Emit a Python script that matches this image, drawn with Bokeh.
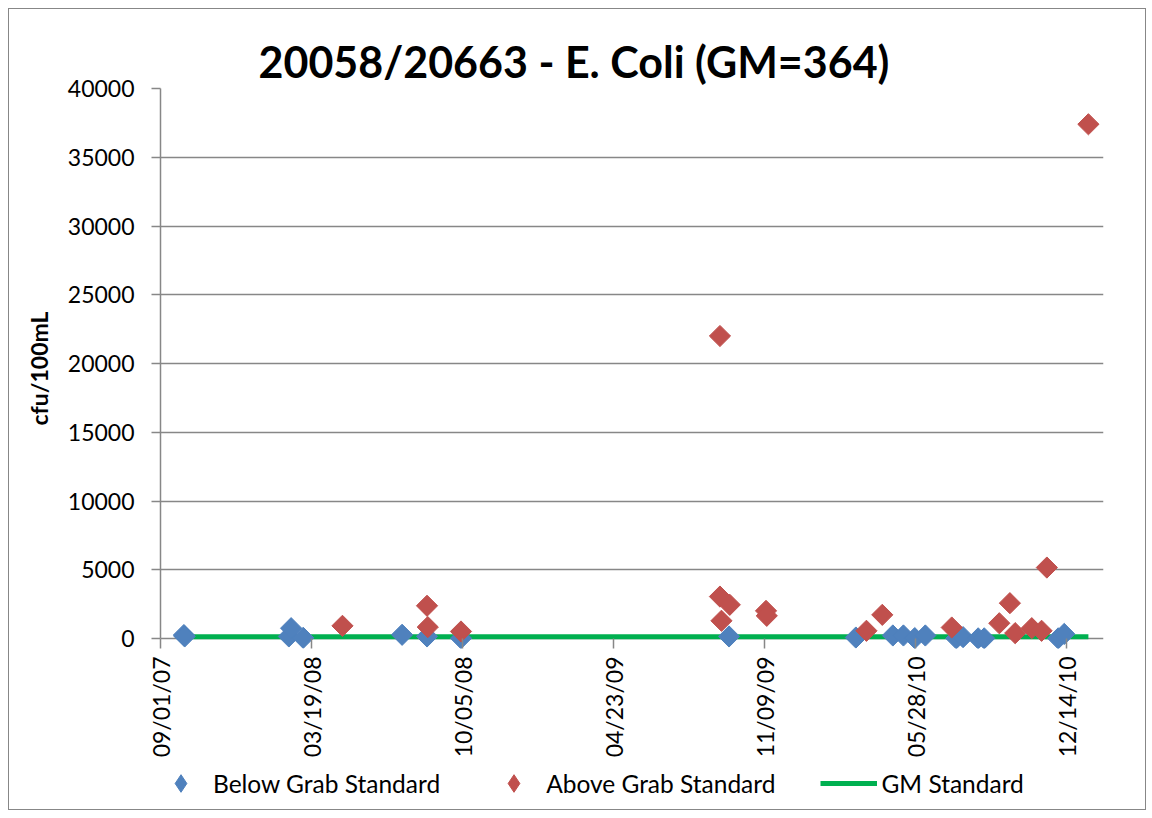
import math
import pandas as pd
from bokeh.plotting import figure
from bokeh.layouts import column
from bokeh.models import (FixedTicker, DatetimeTickFormatter, Range1d, Legend,
                          LegendItem)
from bokeh.embed import file_html
from bokeh.resources import INLINE

# ---------------- data ----------------
title_text = "20058/20663 - E. Coli (GM=364)"
y_label = "cfu/100mL"
x_tick_dates = ["2007-09-01", "2008-03-19", "2008-10-05", "2009-04-23",
                "2009-11-09", "2010-05-28", "2010-12-14"]
x_start = "2007-09-01"
x_end = "2011-02-01"
y_ticks = [0, 5000, 10000, 15000, 20000, 25000, 30000, 35000, 40000]
y_max = 40000
gm_standard = 126

below_dates = ["2007-10-02", "2007-10-03", "2008-02-18", "2008-02-21", "2008-03-08",
               "2008-07-17", "2008-08-19", "2008-10-03", "2009-09-23",
               "2010-03-10", "2010-04-28", "2010-05-12", "2010-05-27", "2010-06-10",
               "2010-07-21", "2010-07-30", "2010-08-19", "2010-08-27",
               "2010-12-03", "2010-12-11"]
below_values = [250, 150, 150, 750, 50,
                270, 150, 20, 150,
                70, 220, 220, 30, 220,
                10, 100, 10, 10,
                10, 330]

above_dates = ["2008-04-29", "2008-08-19", "2008-08-20", "2008-10-03",
               "2009-09-11", "2009-09-11", "2009-09-24", "2009-09-13",
               "2009-11-11", "2009-11-12",
               "2010-03-24", "2010-04-14", "2010-07-15",
               "2010-09-16", "2010-09-30", "2010-10-07", "2010-10-29",
               "2010-11-11", "2010-11-18", "2011-01-12"]
above_values = [920, 2380, 830, 510,
                22000, 3050, 2450, 1290,
                2010, 1650,
                560, 1720, 800,
                1110, 2570, 390, 750,
                560, 5160, 37400]

legend_labels = ["Below Grab Standard", "Above Grab Standard", "GM Standard"]

# ---------------- build ----------------
FONT = "Lato"
GRID = "#878787"
BLUE = "#4F81BD"
RED = "#C0504D"
GREEN = "#00B050"
NAN = float("nan")

bd = pd.to_datetime(below_dates)
ad = pd.to_datetime(above_dates)
all_dates = bd.append(ad)
gm_x = [all_dates.min(), all_dates.max()]
gm_y = [gm_standard, gm_standard]

tick_ms = [pd.Timestamp(d).value / 1e6 for d in x_tick_dates]

# a little room below zero so markers sitting on zero are not clipped
y_pad = 727

p = figure(width=1136, height=752, x_axis_type="datetime",
           output_backend="svg", toolbar_location=None,
           x_range=Range1d(pd.Timestamp(x_start), pd.Timestamp(x_end)),
           y_range=Range1d(-y_pad, y_max),
           min_border_left=151, min_border_right=42,
           min_border_top=79, min_border_bottom=113)
p.outline_line_color = None
p.background_fill_color = "white"
p.border_fill_color = "white"

p.title.text = title_text
p.title.text_font = FONT
p.title.text_font_size = "43px"
p.title.text_font_style = "bold"
p.title.text_color = "black"
p.title.align = "left"
p.title.offset = 98
p.title.standoff = 4

# x axis (sits at the frame bottom, ticks reach up to the zero line)
p.xaxis.ticker = FixedTicker(ticks=tick_ms)
fmt = "%m/%d/%y"
p.xaxis.formatter = DatetimeTickFormatter(
    microseconds=fmt, milliseconds=fmt, seconds=fmt, minsec=fmt, minutes=fmt,
    hourmin=fmt, hours=fmt, days=fmt, months=fmt, years=fmt)
p.xaxis.major_label_orientation = math.pi / 2
p.xaxis.axis_line_color = None
p.xaxis.major_tick_out = 0
p.xaxis.major_tick_in = 10
p.xaxis.minor_tick_out = 0
p.xaxis.minor_tick_in = 0
p.xaxis.major_label_standoff = 8

p.yaxis.ticker = FixedTicker(ticks=y_ticks)
p.yaxis.bounds = (0, y_max)
p.yaxis.axis_line_color = GRID
p.yaxis.axis_line_width = 1.5
p.yaxis.major_tick_out = 9
p.yaxis.major_tick_in = 0
p.yaxis.minor_tick_out = 0
p.yaxis.minor_tick_in = 0
p.yaxis.major_label_standoff = 17
p.yaxis.axis_label = y_label
p.yaxis.axis_label_text_font = FONT
p.yaxis.axis_label_text_font_style = "bold"
p.yaxis.axis_label_text_font_size = "23px"
p.yaxis.axis_label_text_color = "black"
p.yaxis.axis_label_standoff = 12

for ax in (p.xaxis, p.yaxis):
    ax.major_tick_line_color = GRID
    ax.major_tick_line_width = 1.5
    ax.major_label_text_font = FONT
    ax.major_label_text_font_size = "23px"
    ax.major_label_text_color = "black"

p.xgrid.visible = False
p.ygrid.grid_line_color = GRID
p.ygrid.grid_line_width = 1.5

# glyphs
p.line(x=gm_x, y=gm_y, line_color=GREEN, line_width=5)
p.scatter(x=bd, y=below_values, marker="square", size=15, angle=math.pi / 4,
          fill_color=BLUE, line_color=BLUE)
p.scatter(x=ad, y=above_values, marker="square", size=15, angle=math.pi / 4,
          fill_color=RED, line_color=RED)

# ---------------- legend strip ----------------
q = figure(width=1136, height=48, output_backend="svg", toolbar_location=None,
           x_range=Range1d(0, 1), y_range=Range1d(0, 1),
           x_axis_location=None, y_axis_location=None, min_border=0)
q.outline_line_color = None
q.grid.visible = False
q.background_fill_color = "white"
q.border_fill_color = "white"

# key-only renderers (NaN data: nothing drawn in the strip, only in the key)
b_key = q.scatter(x=[NAN], y=[NAN], marker="diamond", fill_color=BLUE, line_color=BLUE)
r_key = q.scatter(x=[NAN], y=[NAN], marker="diamond", fill_color=RED, line_color=RED)
g_key = q.line(x=[NAN, NAN], y=[NAN, NAN], line_color=GREEN, line_width=5)

legend = Legend(items=[LegendItem(label=legend_labels[0], renderers=[b_key]),
                       LegendItem(label=legend_labels[1], renderers=[r_key]),
                       LegendItem(label=legend_labels[2], renderers=[g_key])],
                orientation="horizontal", location=(-8, 4),
                border_line_color=None, background_fill_alpha=0,
                glyph_width=57, glyph_height=44, label_standoff=4, spacing=45,
                label_text_font=FONT, label_text_font_size="24.5px",
                label_text_color="black",
                padding=0, margin=0)
q.add_layout(legend)

layout = column(p, q, spacing=0, margin=(8, 0, 0, 8),
                styles={"border": "1.5px solid #878787"})

open("out.html", "w").write(file_html(layout, INLINE))
